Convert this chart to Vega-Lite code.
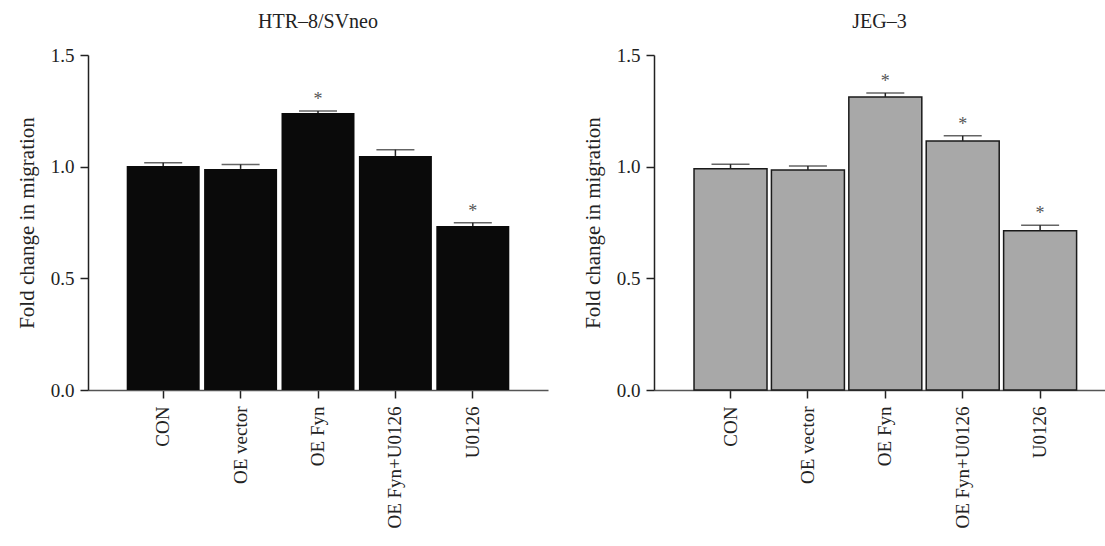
{
  "$schema": "https://vega.github.io/schema/vega-lite/v6.json",
  "background": "white",
  "padding": {"left": 16, "top": 12, "right": 0, "bottom": 0},
  "config": {
    "view": {"stroke": null},
    "font": "Liberation Serif",
    "axis": {
      "labelFont": "Liberation Serif",
      "titleFont": "Liberation Serif",
      "labelFontSize": 19,
      "titleFontSize": 21,
      "titleFontWeight": "normal",
      "labelColor": "#222",
      "titleColor": "#222",
      "domainColor": "#222",
      "tickColor": "#222",
      "domainWidth": 1.5,
      "tickWidth": 1.5,
      "tickSize": 8,
      "grid": false
    },
    "title": {"font": "Liberation Serif", "fontSize": 20, "fontWeight": "normal", "color": "#222", "anchor": "middle", "offset": 14}
  },
  "data": {
    "values": [
      {"panel": "HTR", "group": "CON", "value": 1.003, "err": 1.018, "star": ""},
      {"panel": "HTR", "group": "OE vector", "value": 0.99, "err": 1.01, "star": ""},
      {"panel": "HTR", "group": "OE Fyn", "value": 1.24, "err": 1.249, "star": "*"},
      {"panel": "HTR", "group": "OE Fyn+U0126", "value": 1.048, "err": 1.076, "star": ""},
      {"panel": "HTR", "group": "U0126", "value": 0.734, "err": 0.749, "star": "*"},
      {"panel": "JEG", "group": "CON", "value": 0.991, "err": 1.011, "star": ""},
      {"panel": "JEG", "group": "OE vector", "value": 0.985, "err": 1.003, "star": ""},
      {"panel": "JEG", "group": "OE Fyn", "value": 1.312, "err": 1.33, "star": "*"},
      {"panel": "JEG", "group": "OE Fyn+U0126", "value": 1.115, "err": 1.138, "star": "*"},
      {"panel": "JEG", "group": "U0126", "value": 0.713, "err": 0.738, "star": "*"}
    ]
  },
  "spacing": 34,
  "hconcat": [
    {
      "title": "HTR–8/SVneo",
      "width": 460,
      "height": 335,
      "transform": [{"filter": "datum.panel === 'HTR'"}],
      "encoding": {
        "x": {
          "field": "group", "type": "nominal",
          "sort": ["CON", "OE vector", "OE Fyn", "OE Fyn+U0126", "U0126"],
          "scale": {"paddingInner": 0.057, "paddingOuter": 0.5, "align": 0.5},
          "axis": {"title": null, "labelAngle": -90, "labelPadding": 8, "domainColor": "#555"}
        }
      },
      "layer": [
        {
          "mark": {"type": "bar", "color": "#0a0a0a"},
          "encoding": {
            "y": {"field": "value", "type": "quantitative", "scale": {"domain": [0, 1.5], "nice": false},
                  "axis": {"values": [0, 0.5, 1, 1.5], "format": ".1f", "title": "Fold change in migration", "labelPadding": 6, "titlePadding": 13}}
          }
        },
        {
          "mark": {"type": "rule", "color": "#222", "strokeWidth": 1.5},
          "encoding": {"y": {"field": "value", "type": "quantitative"}, "y2": {"field": "err"}}
        },
        {
          "mark": {"type": "tick", "color": "#222", "thickness": 1.5, "size": 38},
          "encoding": {"y": {"field": "err", "type": "quantitative"}}
        },
        {
          "mark": {"type": "text", "color": "#555", "fontSize": 18, "baseline": "middle", "dy": -11},
          "encoding": {"y": {"field": "err", "type": "quantitative"}, "text": {"field": "star"}}
        }
      ]
    },
    {
      "title": "JEG–3",
      "width": 451,
      "height": 335,
      "transform": [{"filter": "datum.panel === 'JEG'"}],
      "encoding": {
        "x": {
          "field": "group", "type": "nominal",
          "sort": ["CON", "OE vector", "OE Fyn", "OE Fyn+U0126", "U0126"],
          "scale": {"paddingInner": 0.057, "paddingOuter": 0.442, "align": 0.585},
          "axis": {"title": null, "labelAngle": -90, "labelPadding": 8, "domainColor": "#555"}
        }
      },
      "layer": [
        {
          "mark": {"type": "bar", "color": "#a8a8a8", "stroke": "#1a1a1a", "strokeWidth": 1.5},
          "encoding": {
            "y": {"field": "value", "type": "quantitative", "scale": {"domain": [0, 1.5], "nice": false},
                  "axis": {"values": [0, 0.5, 1, 1.5], "format": ".1f", "title": "Fold change in migration", "labelPadding": 6, "titlePadding": 13}}
          }
        },
        {
          "mark": {"type": "rule", "color": "#222", "strokeWidth": 1.5},
          "encoding": {"y": {"field": "value", "type": "quantitative"}, "y2": {"field": "err"}}
        },
        {
          "mark": {"type": "tick", "color": "#222", "thickness": 1.5, "size": 38},
          "encoding": {"y": {"field": "err", "type": "quantitative"}}
        },
        {
          "mark": {"type": "text", "color": "#555", "fontSize": 18, "baseline": "middle", "dy": -11},
          "encoding": {"y": {"field": "err", "type": "quantitative"}, "text": {"field": "star"}}
        }
      ]
    }
  ]
}
